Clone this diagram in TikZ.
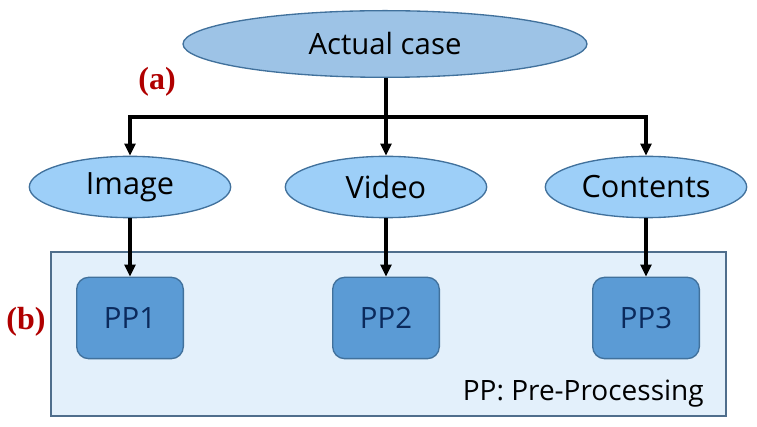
\documentclass[tikz,border=0pt]{standalone}
\usepackage{fontspec}
\setmainfont{Open Sans}
\newfontfamily\labelfont{Liberation Serif}
\usetikzlibrary{shapes.geometric,arrows.meta}

\definecolor{topfill}{HTML}{9DC3E6}
\definecolor{kidfill}{HTML}{9DCFF8}
\definecolor{ppfill}{HTML}{5B9BD5}
\definecolor{boxfill}{HTML}{E3F0FB}
\definecolor{edge}{HTML}{41719C}
\definecolor{boxedge}{HTML}{4F6E8C}
\definecolor{ppnavy}{HTML}{0B2A5C}
\definecolor{tagred}{HTML}{B00000}

\tikzset{
  casenode/.style={ellipse, draw=edge, line width=1pt, fill=kidfill,
    minimum width=151pt, minimum height=46pt, inner sep=0pt,
    font=\fontsize{23}{27}\selectfont},
  ppnode/.style={rectangle, rounded corners=9pt, draw=edge, line width=1pt,
    fill=ppfill, text=ppnavy, minimum width=80pt, minimum height=61pt,
    font=\fontsize{22}{26}\selectfont},
  tag/.style={text=tagred, font=\labelfont\bfseries\fontsize{24}{28}\selectfont},
  link/.style={-{Triangle[length=9pt,width=8pt]}, line width=2.3pt}
}

\begin{document}
\begin{tikzpicture}[x=0.75pt, y=-0.75pt]
  \useasboundingbox (0,0) rectangle (757,427);

  % pre-processing area
  \node (ppbox) [rectangle, draw=boxedge, line width=1.5pt, fill=boxfill,
    minimum width=506pt, minimum height=123pt] at (388.5,334) {};

  % actual case and its three kinds
  \node (actual) [casenode, fill=topfill, minimum width=303pt, minimum height=50pt,
    font=\fontsize{22}{26}\selectfont] at (385,44) {Actual case};
  \node (image) [casenode] at (130,187) {Image};
  \node (video) [casenode] at (386,187) {Video};
  \node (contents) [casenode] at (646,187) {Contents};

  % pre-processing steps
  \node (pp1) [ppnode] at (130,318) {PP1};
  \node (pp2) [ppnode] at (386,318) {PP2};
  \node (pp3) [ppnode] at (646,318) {PP3};

  \node (note) [anchor=base east, inner sep=0pt, font=\fontsize{21}{25}\selectfont] at (704,401) {PP: Pre-Processing};

  \node (taga) [tag] at (157,82) {(a)};
  \node (tagb) [tag] at (26,322) {(b)};

  % connectors
  \coordinate (bar) at (386,117);
  \draw[link] (actual.south -| video.north) -- (video.north);
  \draw[link] (bar) -| (image.north);
  \draw[link] (bar) -| (contents.north);
  \draw[link] (image.south) -- (pp1.north);
  \draw[link] (video.south) -- (pp2.north);
  \draw[link] (contents.south) -- (pp3.north);
\end{tikzpicture}
\end{document}
